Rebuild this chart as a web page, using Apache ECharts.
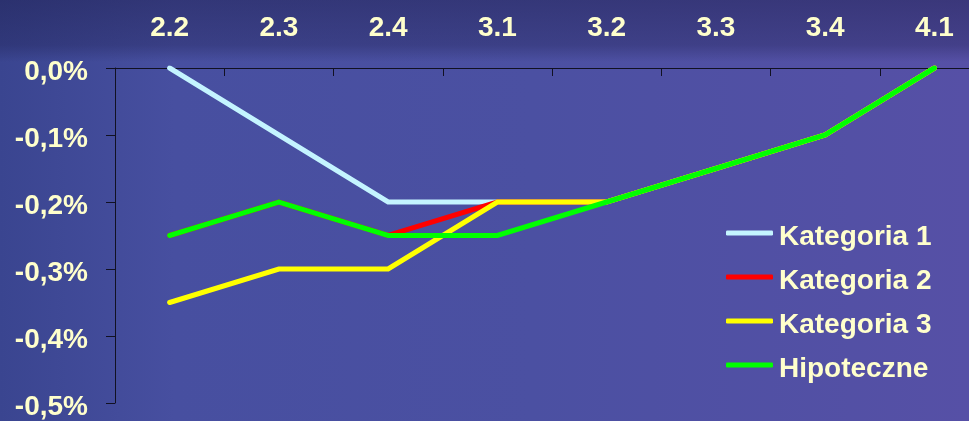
<!DOCTYPE html>
<html>
<head>
<meta charset="utf-8">
<script src="https://cdn.jsdelivr.net/npm/echarts@6/dist/echarts.min.js"></script>
<style>
html,body{margin:0;padding:0;width:969px;height:421px;overflow:hidden;}
body{
  background:
    linear-gradient(to bottom, rgba(25,25,70,0.45) 0px, rgba(25,25,70,0.3) 45px, rgba(0,0,0,0) 62px),
    linear-gradient(to right, #3a4590 0%, #474fa0 18%, #4b50a2 55%, #5650a6 100%);
}
#chart{width:990px;height:421px;}
</style>
</head>
<body>
<div id="chart"></div>
<script>
var categories = ['2.2','2.3','2.4','3.1','3.2','3.3','3.4','4.1'];
var kategoria1 = [0, -0.1, -0.2, -0.2, -0.2, -0.15, -0.1, 0];
var kategoria2 = [-0.25, -0.2, -0.25, -0.2, -0.2, -0.15, -0.1, 0];
var kategoria3 = [-0.35, -0.3, -0.3, -0.2, -0.2, -0.15, -0.1, 0];
var hipoteczne = [-0.25, -0.2, -0.25, -0.25, -0.2, -0.15, -0.1, 0];
var seriesNames = ['Kategoria 1','Kategoria 2','Kategoria 3','Hipoteczne'];
var seriesColors = ['#c4f4ff','#ff0000','#ffff00','#00ff00'];
var seriesData = [kategoria1, kategoria2, kategoria3, hipoteczne];

var textColor = '#ffffcc';
var font = 'Liberation Sans, Arial, sans-serif';
var shifted = {
  v: {color: textColor, fontSize: 28, fontWeight: 'bold', fontFamily: font, lineHeight: 28, padding: [8, 0, 0, 0]}
};

var chart = echarts.init(document.getElementById('chart'));
chart.setOption({
  backgroundColor: 'transparent',
  animation: false,
  grid: {left: 115, top: 68, right: 1, height: 338},
  legend: {
    orient: 'vertical',
    left: 726, top: 215,
    padding: 0,
    itemWidth: 47, itemHeight: 5, itemGap: 8,
    icon: 'roundRect',
    data: seriesNames,
    formatter: function (name) { return '{v|' + name + '}'; },
    textStyle: {color: textColor, fontSize: 28, fontWeight: 'bold', fontFamily: font, padding: [0,0,0,1], rich: shifted}
  },
  xAxis: {
    type: 'category',
    position: 'top',
    data: categories,
    boundaryGap: true,
    axisLine: {show: true, lineStyle: {color: '#111122', width: 1}},
    axisTick: {show: true, inside: true, length: 8, lineStyle: {color: '#111122'}},
    axisLabel: {color: textColor, fontSize: 28, fontWeight: 'bold', fontFamily: font, margin: 26},
    splitLine: {show: false}
  },
  yAxis: {
    type: 'value',
    min: -0.5, max: 0, interval: 0.1,
    axisLine: {show: true, lineStyle: {color: '#111122', width: 1}},
    axisTick: {show: true, inside: false, length: 9, lineStyle: {color: '#111122'}},
    axisLabel: {
      color: textColor, fontSize: 28, fontWeight: 'bold', fontFamily: font, margin: 27,
      rich: shifted,
      formatter: function (v) { return '{v|' + v.toFixed(1).replace('.', ',') + '%}'; }
    },
    splitLine: {show: false}
  },
  series: seriesData.map(function (d, i) {
    return {
      name: seriesNames[i],
      type: 'line',
      data: d,
      showSymbol: false,
      symbol: 'none',
      color: seriesColors[i],
      lineStyle: {width: 5, color: seriesColors[i], cap: 'round', join: 'miter'},
      z: 2 + i
    };
  })
});
</script>
</body>
</html>
